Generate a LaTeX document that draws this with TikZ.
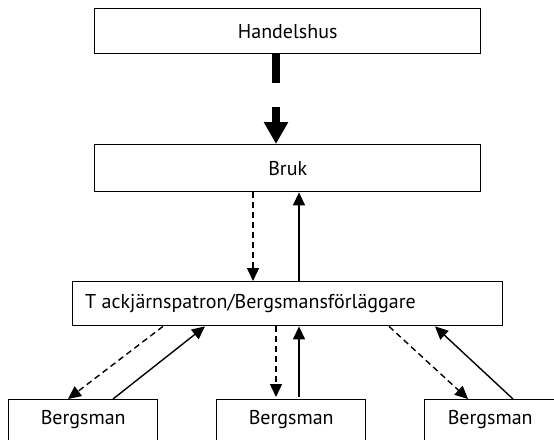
\documentclass[tikz,border=0pt]{standalone}
\usepackage{fontspec}
\setmainfont{PT Sans}
\usetikzlibrary{arrows.meta}
\begin{document}
\begin{tikzpicture}[x=1pt,y=-1pt,
  box/.style={draw,line width=1.4pt,rectangle,inner sep=0pt},
  lbl/.style={font=\fontsize{20}{24}\selectfont,inner sep=0pt},
  flow/.style={line width=1.4pt,-{Triangle[length=13pt,width=12pt]}},
  dflow/.style={flow,dash pattern=on 6pt off 4pt},
  bigflow/.style={line width=7.5pt}]
\clip (0,0) rectangle (554,439);
\fill[white] (0,0) rectangle (554,439);
% boxes
\node[box,minimum width=386,minimum height=45,anchor=north west] (handel) at (94,8) {};
\node[lbl] at (handel.center) {Handelshus};
\node[box,minimum width=386,minimum height=47,anchor=north west] (bruk) at (94,144) {};
\node[lbl] at (bruk.center) {Bruk};
\node[box,minimum width=430,minimum height=44,anchor=north west] (tack) at (72,281) {};
\node[lbl,anchor=west] at ([xshift=13pt]tack.west) {T ackjärnspatron/Bergsmansförläggare};
\node[box,minimum width=149,minimum height=80,anchor=north west] (b1) at (8,399) {};
\node[lbl] at ([yshift=-21pt]b1.north) {Bergsman};
\node[box,minimum width=149,minimum height=80,anchor=north west] (b2) at (216,399) {};
\node[lbl] at ([yshift=-21pt]b2.north) {Bergsman};
\node[box,minimum width=149,minimum height=80,anchor=north west] (b3) at (424,399) {};
\node[lbl,xshift=-9pt] at ([yshift=-21pt]b3.north) {Bergsman};
% thick broken arrow
\coordinate (g1) at (276,83);
\coordinate (g2) at (276,107);
\draw[bigflow] (handel.south -| g1) -- (g1);
\draw[bigflow,-{Triangle[length=22pt,width=23pt]}] (g2) -- (bruk.north -| g2);
% Bruk <-> Tack
\draw[dflow] (bruk.south -| 253,0) -- (tack.north -| 253,0);
\draw[flow] (tack.north -| 299,0) -- (bruk.south -| 299,0);
% Tack <-> Bergsman
\draw[dflow] (tack.south -| 163,0) -- (b1.north -| 68,0);
\draw[flow] (b1.north -| 113,0) -- (tack.south -| 205,0);
\draw[dflow] (tack.south -| 276,0) -- ([yshift=2pt]b2.north -| 276,0);
\draw[flow] ([yshift=2pt]b2.north -| 299,0) -- (tack.south -| 299,0);
\draw[dflow] (tack.south -| 389,0) -- (b3.north -| 468,0);
\draw[flow] (b3.north -| 513,0) -- (tack.south -| 435,0);
\end{tikzpicture}
\end{document}
